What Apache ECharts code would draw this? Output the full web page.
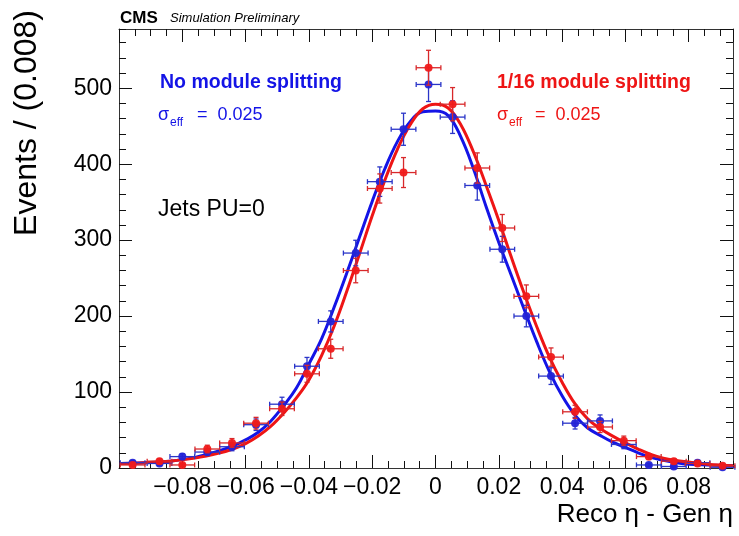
<!DOCTYPE html>
<html>
<head>
<meta charset="utf-8">
<script src="https://cdn.jsdelivr.net/npm/echarts@6/dist/echarts.min.js"></script>
<style>
  html, body { margin: 0; padding: 0; background: #fff; }
  #chart { width: 739px; height: 536px; }
</style>
</head>
<body>
<div id="chart"></div>
<script>
// bin centres (Reco eta - Gen eta)
var binX = [-0.0957, -0.0872, -0.0800, -0.0721, -0.0643, -0.0567, -0.0485, -0.0406, -0.0331, -0.0252,
            -0.0176, -0.0101, -0.0022, 0.0054, 0.0132, 0.0211, 0.0287, 0.0365, 0.0441, 0.0520,
            0.0595, 0.0674, 0.0753, 0.0828, 0.0907];
var noSplitCounts = [7, 6, 15, 21, 28, 57, 84, 134, 193, 283, 377, 446, 505, 462, 372, 288, 200, 121, 59, 62, 31, 4, 2, 7, 1];
var splitCounts   = [4, 9, 4, 25, 33, 59, 78, 124, 157, 260, 368, 389, 527, 479, 395, 316, 226, 146, 74, 54, 36, 15, 9, 6, 3];
var halfBin = 0.0039;

// fit curves
var fitX = [-0.0995, -0.092, -0.084, -0.076, -0.068, -0.064, -0.060, -0.056, -0.052, -0.048, -0.044,
            -0.040, -0.036, -0.032, -0.028, -0.024, -0.020, -0.016, -0.012, -0.008, -0.004, 0.000,
            0.004, 0.008, 0.012, 0.016, 0.020, 0.024, 0.028, 0.032, 0.036, 0.040, 0.044, 0.048,
            0.052, 0.056, 0.060, 0.064, 0.068, 0.072, 0.076, 0.080, 0.086, 0.094];
var noSplitFit = [6, 7, 9, 14, 23, 29, 37, 47, 62, 82, 105,
                  137, 170, 212, 257, 304, 351, 394, 430, 456, 469, 470,
                  464, 436, 394, 344, 297, 253, 209, 166, 127, 95, 70, 53,
                  43, 34, 27, 20, 14, 10, 7, 5, 4, 3];
var splitFit = [6, 7, 9, 13, 20, 25, 32, 42, 55, 72, 92,
                116, 148, 187, 233, 282, 332, 379, 420, 452, 473, 479,
                474, 452, 416, 372, 326, 277, 230, 186, 146, 113, 85, 65,
                52, 42, 33, 25, 18, 13, 10, 8, 5, 3];

var xTickValues = [-0.08, -0.06, -0.04, -0.02, 0, 0.02, 0.04, 0.06, 0.08];
var xTickLabels = ['\u22120.08', '\u22120.06', '\u22120.04', '\u22120.02', '0', '0.02', '0.04', '0.06', '0.08'];
var yTickValues = [0, 100, 200, 300, 400, 500];
var yTickLabels = ['0', '100', '200', '300', '400', '500'];

var FONT = '"Liberation Sans", Arial, Helvetica, sans-serif';
var BLUE = '#1414e6';
var RED = '#ee1515';

function pickLabel(values, labels) {
    return function (v) {
        for (var i = 0; i < values.length; i++) {
            if (Math.abs(v - values[i]) < 1e-6) return labels[i];
        }
        return '';
    };
}

function toPoints(xs, ys) {
    return xs.map(function (x, i) { return [x, ys[i]]; });
}

function toErrors(xs, ys) {
    return xs.map(function (x, i) { return [x, ys[i], Math.sqrt(ys[i])]; });
}

function errorBars(color) {
    return function (params, api) {
        var x = api.value(0), y = api.value(1), e = api.value(2);
        var l = api.coord([x - halfBin, y]);
        var r = api.coord([x + halfBin, y]);
        var t = api.coord([x, y + e]);
        var b = api.coord([x, Math.max(y - e, 0)]);
        var cap = 2.5;
        var st = { stroke: color, lineWidth: 1.3 };
        return {
            type: 'group',
            children: [
                { type: 'line', shape: { x1: l[0], y1: l[1], x2: r[0], y2: r[1] }, style: st },
                { type: 'line', shape: { x1: l[0], y1: l[1] - cap, x2: l[0], y2: l[1] + cap }, style: st },
                { type: 'line', shape: { x1: r[0], y1: r[1] - cap, x2: r[0], y2: r[1] + cap }, style: st },
                { type: 'line', shape: { x1: t[0], y1: t[1], x2: b[0], y2: b[1] }, style: st },
                { type: 'line', shape: { x1: t[0] - cap, y1: t[1], x2: t[0] + cap, y2: t[1] }, style: st },
                { type: 'line', shape: { x1: b[0] - cap, y1: b[1], x2: b[0] + cap, y2: b[1] }, style: st }
            ]
        };
    };
}

function xAxisDef(pos, interval, tickLen, withLabels, withLine) {
    return {
        type: 'value', position: pos, min: -0.1, max: 0.094, interval: interval,
        axisLine: { show: withLine, onZero: false, lineStyle: { color: '#333', width: 1 } },
        axisTick: { show: true, inside: true, length: tickLen, lineStyle: { color: '#111', width: 1 } },
        splitLine: { show: false },
        axisLabel: {
            show: withLabels, margin: 8, color: '#000', fontSize: 23, fontFamily: FONT,
            showMinLabel: false, showMaxLabel: false,
            formatter: pickLabel(xTickValues, xTickLabels)
        }
    };
}

function yAxisDef(pos, interval, tickLen, withLabels, withLine) {
    return {
        type: 'value', position: pos, min: 0, max: 578, interval: interval,
        axisLine: { show: withLine, onZero: false, lineStyle: { color: '#333', width: 1 } },
        axisTick: { show: true, inside: true, length: tickLen, lineStyle: { color: '#111', width: 1 } },
        splitLine: { show: false },
        axisLabel: {
            show: withLabels, margin: 7, color: '#000', fontSize: 23, fontFamily: FONT,
            showMaxLabel: false,
            formatter: pickLabel(yTickValues, yTickLabels)
        }
    };
}

var chart = echarts.init(document.getElementById('chart'), null, { renderer: 'canvas' });

var option = {
    animation: false,
    backgroundColor: '#fff',
    grid: { left: 119, right: 6, top: 29, bottom: 68, containLabel: false, outerBoundsMode: 'none' },
    xAxis: [
        xAxisDef('bottom', 0.02, 13, true, true),
        xAxisDef('bottom', 0.005, 7, false, false),
        xAxisDef('top', 0.02, 13, false, true),
        xAxisDef('top', 0.005, 7, false, false)
    ],
    yAxis: [
        yAxisDef('left', 100, 13, true, true),
        yAxisDef('left', 20, 7, false, false),
        yAxisDef('right', 100, 13, false, true),
        yAxisDef('right', 20, 7, false, false)
    ],
    series: [
        {
            name: 'No module splitting fit', type: 'line', smooth: 0.4, showSymbol: false,
            data: toPoints(fitX, noSplitFit), lineStyle: { color: BLUE, width: 3 }, z: 2
        },
        {
            name: '1/16 module splitting fit', type: 'line', smooth: 0.4, showSymbol: false,
            data: toPoints(fitX, splitFit), lineStyle: { color: RED, width: 3 }, z: 3
        },
        {
            name: 'No module splitting err', type: 'custom', renderItem: errorBars('#2a35c8'),
            encode: { x: 0, y: 1 }, data: toErrors(binX, noSplitCounts), z: 4
        },
        {
            name: 'No module splitting', type: 'scatter', symbol: 'circle', symbolSize: 8,
            data: toPoints(binX, noSplitCounts), itemStyle: { color: '#2323d6', opacity: 0.95 }, z: 5
        },
        {
            name: '1/16 module splitting err', type: 'custom', renderItem: errorBars('#d8282a'),
            encode: { x: 0, y: 1 }, data: toErrors(binX, splitCounts), z: 6
        },
        {
            name: '1/16 module splitting', type: 'scatter', symbol: 'circle', symbolSize: 8,
            data: toPoints(binX, splitCounts), itemStyle: { color: '#f01a1a', opacity: 0.95 }, z: 7
        }
    ],
    graphic: [
        { type: 'text', x: 120, y: 18, style: { text: 'CMS', fill: '#000', font: 'bold 17px ' + FONT, textVerticalAlign: 'middle' } },
        { type: 'text', x: 170, y: 18, style: { text: 'Simulation Preliminary', fill: '#000', font: 'italic 13px ' + FONT, textVerticalAlign: 'middle' } },

        { type: 'text', x: 27, y: 123, rotation: Math.PI / 2, style: { text: 'Events / (0.008)', fill: '#000', font: '32px ' + FONT, textAlign: 'center', textVerticalAlign: 'middle' } },
        { type: 'text', x: 733, y: 515, style: { text: 'Reco \u03b7 - Gen \u03b7', fill: '#000', font: '26px ' + FONT, textAlign: 'right', textVerticalAlign: 'middle' } },

        { type: 'text', x: 160, y: 83, style: { text: 'No module splitting', fill: BLUE, font: 'bold 19.5px ' + FONT, textVerticalAlign: 'middle' } },
        { type: 'text', x: 158, y: 115, style: { text: '\u03c3', fill: BLUE, font: '18px ' + FONT, textVerticalAlign: 'middle' } },
        { type: 'text', x: 170, y: 123, style: { text: 'eff', fill: BLUE, font: '12px ' + FONT, textVerticalAlign: 'middle' } },
        { type: 'text', x: 197, y: 115, style: { text: '=  0.025', fill: BLUE, font: '18px ' + FONT, textVerticalAlign: 'middle' } },

        { type: 'text', x: 497, y: 83, style: { text: '1/16 module splitting', fill: RED, font: 'bold 19.5px ' + FONT, textVerticalAlign: 'middle' } },
        { type: 'text', x: 497, y: 115, style: { text: '\u03c3', fill: RED, font: '18px ' + FONT, textVerticalAlign: 'middle' } },
        { type: 'text', x: 509, y: 123, style: { text: 'eff', fill: RED, font: '12px ' + FONT, textVerticalAlign: 'middle' } },
        { type: 'text', x: 535, y: 115, style: { text: '=  0.025', fill: RED, font: '18px ' + FONT, textVerticalAlign: 'middle' } },

        { type: 'text', x: 158, y: 210, style: { text: 'Jets PU=0', fill: '#000', font: '23px ' + FONT, textVerticalAlign: 'middle' } }
    ]
};

chart.setOption(option);
</script>
</body>
</html>
